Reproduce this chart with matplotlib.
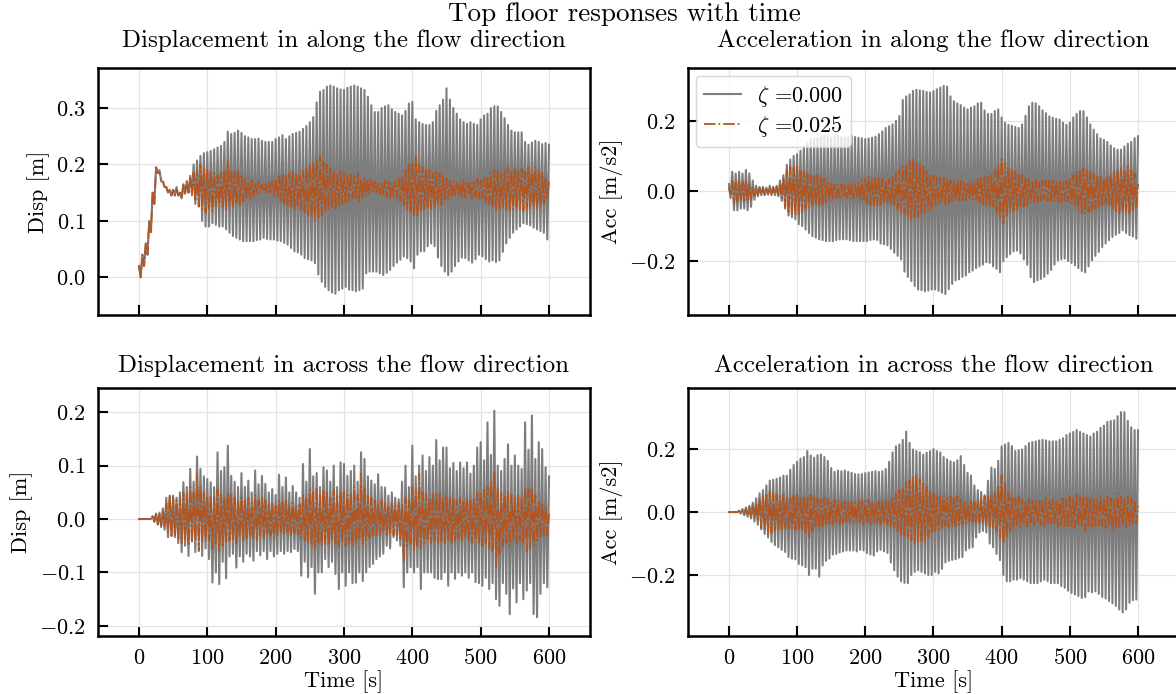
import numpy as np
import matplotlib
matplotlib.use("Agg")
import matplotlib.pyplot as plt

plt.rcParams["font.family"] = "cmr10"
plt.rcParams["mathtext.fontset"] = "cm"
plt.rcParams["axes.formatter.use_mathtext"] = True

# peak times (s); troughs sit half a cycle later
T = np.arange(0, 601, 5)

# --- displacement, along flow ---
tl_up = [0.02, 0.04, 0.06, 0.10, 0.15, 0.195, 0.19, 0.17, 0.16, 0.155,
         0.155, 0.16, 0.15, 0.165, 0.17, 0.18, 0.20, 0.207, 0.215, 0.22,
         0.222, 0.224, 0.227, 0.23, 0.233, 0.24, 0.258, 0.254, 0.256, 0.26,
         0.256, 0.25, 0.248, 0.245, 0.245, 0.246, 0.242, 0.24, 0.24, 0.24,
         0.245, 0.248, 0.252, 0.245, 0.25, 0.254, 0.256, 0.258, 0.263, 0.268,
         0.275, 0.284, 0.31, 0.329, 0.332, 0.338, 0.34, 0.338, 0.335, 0.333,
         0.332, 0.336, 0.338, 0.34, 0.338, 0.335, 0.332, 0.32, 0.305, 0.293,
         0.293, 0.30, 0.303, 0.305, 0.298, 0.293, 0.29, 0.287, 0.295, 0.308,
         0.311, 0.28, 0.275, 0.272, 0.27, 0.27, 0.275, 0.295, 0.305, 0.315,
         0.335, 0.315, 0.30, 0.29, 0.28, 0.275, 0.272, 0.275, 0.272, 0.27,
         0.28, 0.287, 0.29, 0.30, 0.303, 0.303, 0.293, 0.282, 0.27, 0.26,
         0.257, 0.257, 0.257, 0.24, 0.235, 0.239, 0.242, 0.24, 0.236, 0.238,
         0.235]
tl_lo = [0.00, 0.02, 0.04, 0.08, 0.13, 0.185, 0.17, 0.16, 0.15, 0.145,
         0.145, 0.145, 0.14, 0.15, 0.15, 0.15, 0.13, 0.126, 0.10, 0.09,
         0.09, 0.096, 0.093, 0.09, 0.09, 0.085, 0.079, 0.073, 0.07, 0.067,
         0.064, 0.064, 0.064, 0.064, 0.066, 0.067, 0.07, 0.068, 0.067, 0.067,
         0.065, 0.064, 0.061, 0.058, 0.052, 0.046, 0.044, 0.04, 0.034, 0.032,
         0.03, 0.025, 0.005, -0.008, -0.017, -0.023, -0.027, -0.029, -0.023, -0.02,
         -0.017, -0.022, -0.023, -0.025, -0.023, -0.02, 0.007, 0.01, 0.01, 0.01,
         0.007, 0.004, 0.008, 0.013, 0.02, 0.026, 0.031, 0.037, 0.034, 0.028,
         0.016, 0.04, 0.046, 0.046, 0.055, 0.06, 0.055, 0.035, 0.02, 0.01,
         0.004, 0.01, 0.02, 0.028, 0.035, 0.034, 0.03, 0.026, 0.032, 0.04,
         0.037, 0.032, 0.028, 0.03, 0.027, 0.03, 0.045, 0.06, 0.07, 0.079,
         0.085, 0.09, 0.096, 0.094, 0.092, 0.088, 0.085, 0.082, 0.079, 0.067,
         0.07]
tld_up = [0.02, 0.04, 0.06, 0.10, 0.15, 0.195, 0.185, 0.17, 0.16, 0.155,
          0.155, 0.155, 0.15, 0.165, 0.17, 0.175, 0.185, 0.19, 0.20, 0.195,
          0.19, 0.19, 0.185, 0.18, 0.185, 0.19, 0.205, 0.19, 0.185, 0.19,
          0.18, 0.175, 0.17, 0.172, 0.168, 0.17, 0.165, 0.165, 0.168, 0.17,
          0.175, 0.18, 0.185, 0.18, 0.185, 0.19, 0.185, 0.18, 0.19, 0.195,
          0.20, 0.205, 0.21, 0.215, 0.205, 0.20, 0.195, 0.19, 0.185, 0.19,
          0.185, 0.18, 0.185, 0.18, 0.185, 0.175, 0.178, 0.175, 0.172, 0.17,
          0.17, 0.168, 0.172, 0.17, 0.168, 0.17, 0.175, 0.18, 0.19, 0.20,
          0.205, 0.215, 0.20, 0.195, 0.19, 0.19, 0.185, 0.19, 0.185, 0.18,
          0.175, 0.172, 0.17, 0.168, 0.17, 0.172, 0.168, 0.17, 0.17, 0.175,
          0.172, 0.175, 0.18, 0.185, 0.19, 0.188, 0.185, 0.19, 0.195, 0.19,
          0.195, 0.19, 0.192, 0.188, 0.195, 0.19, 0.195, 0.19, 0.185, 0.175,
          0.17]
tld_lo = [0.00, 0.02, 0.04, 0.08, 0.13, 0.185, 0.175, 0.16, 0.15, 0.145,
          0.145, 0.145, 0.14, 0.148, 0.15, 0.145, 0.135, 0.125, 0.12, 0.115,
          0.12, 0.118, 0.125, 0.13, 0.125, 0.12, 0.128, 0.125, 0.13, 0.128,
          0.135, 0.138, 0.14, 0.145, 0.148, 0.15, 0.152, 0.15, 0.148, 0.145,
          0.14, 0.135, 0.13, 0.128, 0.125, 0.12, 0.125, 0.12, 0.115, 0.11,
          0.105, 0.10, 0.105, 0.11, 0.115, 0.12, 0.125, 0.12, 0.125, 0.13,
          0.13, 0.135, 0.14, 0.138, 0.135, 0.14, 0.145, 0.148, 0.15, 0.15,
          0.148, 0.145, 0.142, 0.14, 0.145, 0.14, 0.135, 0.128, 0.12, 0.115,
          0.11, 0.108, 0.115, 0.12, 0.125, 0.122, 0.125, 0.13, 0.128, 0.135,
          0.14, 0.142, 0.145, 0.143, 0.14, 0.142, 0.145, 0.14, 0.143, 0.14,
          0.14, 0.135, 0.13, 0.125, 0.12, 0.122, 0.125, 0.12, 0.118, 0.12,
          0.125, 0.12, 0.118, 0.122, 0.12, 0.125, 0.12, 0.128, 0.13, 0.14,
          0.145]

# --- acceleration, along flow ---
tr_up = [0.02, 0.055, 0.05, 0.055, 0.05, 0.06, 0.05, 0.03, 0.015, 0.012,
         0.012, 0.01, 0.015, 0.012, 0.015, 0.03, 0.045, 0.075, 0.09, 0.10,
         0.105, 0.115, 0.128, 0.135, 0.148, 0.15, 0.152, 0.155, 0.157, 0.155,
         0.152, 0.155, 0.157, 0.154, 0.152, 0.155, 0.157, 0.154, 0.152, 0.15,
         0.148, 0.15, 0.152, 0.155, 0.162, 0.17, 0.18, 0.185, 0.19, 0.2,
         0.214, 0.26, 0.27, 0.276, 0.286, 0.289, 0.287, 0.286, 0.283, 0.281,
         0.285, 0.29, 0.295, 0.30, 0.298, 0.27, 0.256, 0.25, 0.245, 0.238,
         0.233, 0.238, 0.242, 0.25, 0.252, 0.23, 0.22, 0.22, 0.228, 0.233,
         0.21, 0.195, 0.189, 0.186, 0.183, 0.18, 0.19, 0.215, 0.242, 0.252,
         0.25, 0.242, 0.23, 0.222, 0.213, 0.209, 0.206, 0.204, 0.195, 0.189,
         0.195, 0.21, 0.22, 0.228, 0.228, 0.21, 0.19, 0.175, 0.162, 0.15,
         0.146, 0.14, 0.13, 0.122, 0.118, 0.118, 0.127, 0.135, 0.14, 0.151,
         0.156]
tr_lo = [-0.02, -0.055, -0.055, -0.05, -0.05, -0.055, -0.045, -0.025, -0.015, -0.012,
         -0.012, -0.01, -0.012, -0.012, -0.015, -0.028, -0.05, -0.07, -0.075, -0.081,
         -0.095, -0.10, -0.11, -0.12, -0.129, -0.133, -0.138, -0.14, -0.143, -0.143,
         -0.143, -0.14, -0.138, -0.138, -0.138, -0.14, -0.143, -0.143, -0.143, -0.143,
         -0.143, -0.14, -0.138, -0.14, -0.15, -0.152, -0.155, -0.165, -0.176, -0.185,
         -0.195, -0.23, -0.245, -0.257, -0.271, -0.281, -0.283, -0.286, -0.284, -0.281,
         -0.281, -0.285, -0.29, -0.294, -0.28, -0.265, -0.255, -0.252, -0.245, -0.241,
         -0.232, -0.227, -0.22, -0.215, -0.21, -0.203, -0.205, -0.215, -0.222, -0.232,
         -0.2, -0.189, -0.18, -0.172, -0.17, -0.178, -0.195, -0.21, -0.246, -0.26,
         -0.255, -0.251, -0.245, -0.236, -0.225, -0.21, -0.198, -0.195, -0.193, -0.2,
         -0.205, -0.212, -0.22, -0.228, -0.232, -0.215, -0.198, -0.185, -0.174, -0.16,
         -0.15, -0.14, -0.131, -0.125, -0.12, -0.112, -0.12, -0.126, -0.13, -0.136,
         -0.14]
trd_up = [0.01, 0.03, 0.025, 0.03, 0.025, 0.03, 0.02, 0.01, 0.008, 0.01,
          0.008, 0.01, 0.008, 0.01, 0.012, 0.02, 0.04, 0.06, 0.07, 0.065,
          0.07, 0.06, 0.055, 0.05, 0.045, 0.04, 0.045, 0.04, 0.035, 0.03,
          0.025, 0.02, 0.018, 0.02, 0.018, 0.02, 0.022, 0.02, 0.025, 0.03,
          0.035, 0.04, 0.038, 0.042, 0.04, 0.035, 0.03, 0.035, 0.04, 0.05,
          0.06, 0.07, 0.075, 0.085, 0.09, 0.08, 0.075, 0.07, 0.06, 0.05,
          0.045, 0.04, 0.038, 0.04, 0.035, 0.032, 0.03, 0.032, 0.03, 0.025,
          0.025, 0.028, 0.03, 0.035, 0.04, 0.042, 0.04, 0.045, 0.06, 0.075,
          0.09, 0.08, 0.065, 0.06, 0.055, 0.05, 0.045, 0.04, 0.035, 0.03,
          0.03, 0.025, 0.03, 0.028, 0.03, 0.032, 0.03, 0.028, 0.025, 0.03,
          0.035, 0.045, 0.055, 0.06, 0.065, 0.06, 0.055, 0.05, 0.045, 0.04,
          0.035, 0.04, 0.05, 0.055, 0.06, 0.065, 0.06, 0.07, 0.06, 0.05,
          0.02]
trd_lo = [-0.01, -0.035, -0.03, -0.025, -0.03, -0.03, -0.025, -0.012, -0.01, -0.008,
          -0.01, -0.008, -0.01, -0.008, -0.012, -0.02, -0.045, -0.065, -0.07, -0.065,
          -0.07, -0.06, -0.05, -0.045, -0.04, -0.04, -0.042, -0.038, -0.03, -0.028,
          -0.022, -0.02, -0.02, -0.018, -0.02, -0.022, -0.02, -0.022, -0.028, -0.03,
          -0.035, -0.04, -0.042, -0.04, -0.038, -0.035, -0.032, -0.04, -0.045, -0.05,
          -0.06, -0.065, -0.072, -0.08, -0.078, -0.072, -0.065, -0.06, -0.055, -0.05,
          -0.045, -0.04, -0.035, -0.038, -0.035, -0.03, -0.03, -0.03, -0.028, -0.025,
          -0.025, -0.025, -0.028, -0.032, -0.038, -0.04, -0.042, -0.045, -0.06, -0.08,
          -0.093, -0.07, -0.06, -0.055, -0.05, -0.048, -0.045, -0.04, -0.035, -0.03,
          -0.03, -0.028, -0.025, -0.03, -0.028, -0.03, -0.032, -0.03, -0.028, -0.03,
          -0.035, -0.045, -0.055, -0.062, -0.064, -0.06, -0.055, -0.05, -0.045, -0.04,
          -0.035, -0.04, -0.05, -0.058, -0.065, -0.062, -0.06, -0.065, -0.055, -0.045,
          -0.02]

# --- displacement, across flow ---
bl_up = [0.0, 0.0, 0.0, 0.0, 0.005, 0.01, 0.012, 0.02, 0.04, 0.044,
         0.044, 0.04, 0.05, 0.069, 0.06, 0.094, 0.07, 0.117, 0.094, 0.08,
         0.075, 0.069, 0.06, 0.125, 0.09, 0.097, 0.1375, 0.081, 0.07, 0.06,
         0.086, 0.06, 0.072, 0.05, 0.091, 0.065, 0.081, 0.066, 0.05, 0.056,
         0.045, 0.083, 0.06, 0.078, 0.05, 0.062, 0.05, 0.04, 0.103, 0.07,
         0.131, 0.08, 0.086, 0.06, 0.097, 0.091, 0.07, 0.1, 0.06, 0.106,
         0.103, 0.081, 0.09, 0.1, 0.07, 0.125, 0.1125, 0.08, 0.072, 0.065,
         0.084, 0.06, 0.059, 0.044, 0.05, 0.04, 0.037, 0.07, 0.1, 0.06,
         0.1375, 0.08, 0.10, 0.119, 0.09, 0.116, 0.10, 0.148, 0.11, 0.134,
         0.134, 0.095, 0.105, 0.09, 0.106, 0.095, 0.106, 0.085, 0.1, 0.134,
         0.144, 0.11, 0.181, 0.12, 0.203, 0.1, 0.09, 0.1125, 0.14, 0.10,
         0.119, 0.10, 0.094, 0.181, 0.13, 0.194, 0.1125, 0.144, 0.131, 0.097,
         0.08]
bl_lo = [0.0, 0.0, 0.0, 0.0, -0.005, -0.01, -0.015, -0.02, -0.034, -0.03,
         -0.034, -0.045, -0.062, -0.05, -0.069, -0.04, -0.062, -0.05, -0.069, -0.055,
         -0.075, -0.119, -0.1, -0.122, -0.08, -0.111, -0.07, -0.065, -0.091, -0.07,
         -0.08, -0.065, -0.07, -0.078, -0.06, -0.068, -0.06, -0.075, -0.06, -0.07,
         -0.065, -0.06, -0.065, -0.06, -0.062, -0.056, -0.06, -0.106, -0.08, -0.109,
         -0.09, -0.14, -0.1, -0.1, -0.075, -0.09, -0.08, -0.103, -0.131, -0.1,
         -0.125, -0.1, -0.12, -0.119, -0.1, -0.116, -0.1, -0.09, -0.084, -0.075,
         -0.07, -0.065, -0.05, -0.055, -0.034, -0.04, -0.05, -0.128, -0.1, -0.09,
         -0.10, -0.09, -0.131, -0.1, -0.1, -0.1, -0.11, -0.1125, -0.1125, -0.1,
         -0.125, -0.1, -0.112, -0.1, -0.106, -0.1, -0.11, -0.1, -0.118, -0.12,
         -0.125, -0.11, -0.131, -0.12, -0.15, -0.1625, -0.12, -0.14, -0.178, -0.13,
         -0.156, -0.12, -0.15, -0.134, -0.12, -0.178, -0.184, -0.14, -0.12, -0.128,
         -0.1]
bld_up = [0.0, 0.0, 0.0, 0.0, 0.005, 0.01, 0.012, 0.015, 0.03, 0.045,
          0.04, 0.035, 0.04, 0.05, 0.045, 0.06, 0.05, 0.085, 0.06, 0.05,
          0.04, 0.045, 0.04, 0.055, 0.045, 0.04, 0.05, 0.045, 0.04, 0.035,
          0.04, 0.035, 0.04, 0.03, 0.045, 0.035, 0.04, 0.035, 0.03, 0.03,
          0.025, 0.035, 0.03, 0.035, 0.025, 0.03, 0.025, 0.03, 0.045, 0.04,
          0.055, 0.05, 0.06, 0.045, 0.055, 0.05, 0.04, 0.055, 0.045, 0.05,
          0.05, 0.045, 0.05, 0.06, 0.045, 0.085, 0.06, 0.045, 0.04, 0.035,
          0.03, 0.035, 0.03, 0.025, 0.03, 0.025, 0.03, 0.03, 0.04, 0.035,
          0.06, 0.05, 0.084, 0.05, 0.045, 0.04, 0.05, 0.045, 0.05, 0.04,
          0.045, 0.04, 0.04, 0.035, 0.04, 0.035, 0.04, 0.035, 0.04, 0.05,
          0.05, 0.055, 0.06, 0.07, 0.0875, 0.06, 0.05, 0.045, 0.05, 0.045,
          0.04, 0.045, 0.04, 0.06, 0.055, 0.06, 0.045, 0.035, 0.03, 0.025,
          0.01]
bld_lo = [0.0, 0.0, 0.0, 0.0, -0.005, -0.01, -0.012, -0.015, -0.025, -0.035,
          -0.03, -0.04, -0.045, -0.04, -0.05, -0.045, -0.04, -0.06, -0.045, -0.04,
          -0.04, -0.055, -0.045, -0.06, -0.05, -0.045, -0.04, -0.04, -0.045, -0.035,
          -0.04, -0.035, -0.03, -0.035, -0.04, -0.03, -0.035, -0.03, -0.03, -0.035,
          -0.03, -0.025, -0.03, -0.025, -0.03, -0.025, -0.03, -0.035, -0.04, -0.045,
          -0.05, -0.055, -0.045, -0.05, -0.045, -0.05, -0.04, -0.045, -0.05, -0.045,
          -0.05, -0.045, -0.05, -0.045, -0.04, -0.05, -0.04, -0.035, -0.03, -0.03,
          -0.03, -0.025, -0.03, -0.025, -0.03, -0.03, -0.04, -0.08, -0.05, -0.045,
          -0.06, -0.05, -0.055, -0.045, -0.04, -0.045, -0.04, -0.045, -0.04, -0.045,
          -0.04, -0.045, -0.04, -0.035, -0.04, -0.035, -0.04, -0.045, -0.04, -0.045,
          -0.05, -0.045, -0.055, -0.06, -0.09, -0.065, -0.05, -0.045, -0.05, -0.04,
          -0.045, -0.04, -0.045, -0.06, -0.055, -0.05, -0.04, -0.035, -0.03, -0.03,
          -0.01]

# --- acceleration, across flow ---
br_up = [0.0, 0.0, 0.0, 0.005, 0.01, 0.015, 0.02, 0.03, 0.044, 0.06,
         0.07, 0.085, 0.1, 0.103, 0.106, 0.11, 0.116, 0.116, 0.135, 0.15,
         0.16, 0.17, 0.175, 0.194, 0.18, 0.173, 0.181, 0.183, 0.175, 0.163,
         0.14, 0.128, 0.132, 0.13, 0.132, 0.128, 0.125, 0.121, 0.12, 0.121,
         0.124, 0.126, 0.128, 0.13, 0.128, 0.13, 0.137, 0.16, 0.19, 0.209,
         0.215, 0.23, 0.256, 0.22, 0.199, 0.194, 0.19, 0.183, 0.189, 0.194,
         0.2, 0.194, 0.19, 0.175, 0.168, 0.162, 0.158, 0.165, 0.178, 0.15,
         0.125, 0.116, 0.085, 0.07, 0.064, 0.054, 0.1, 0.142, 0.137, 0.163,
         0.209, 0.215, 0.22, 0.21, 0.194, 0.197, 0.199, 0.21, 0.22, 0.223,
         0.225, 0.228, 0.23, 0.228, 0.225, 0.225, 0.225, 0.23, 0.235, 0.245,
         0.25, 0.255, 0.261, 0.255, 0.25, 0.245, 0.24, 0.25, 0.256, 0.268,
         0.275, 0.287, 0.29, 0.292, 0.305, 0.318, 0.318, 0.29, 0.27, 0.261,
         0.26]
br_lo = [0.0, 0.0, 0.0, -0.005, -0.01, -0.015, -0.02, -0.03, -0.04, -0.055,
         -0.07, -0.081, -0.095, -0.105, -0.112, -0.12, -0.127, -0.143, -0.148, -0.15,
         -0.165, -0.169, -0.175, -0.2, -0.18, -0.18, -0.205, -0.17, -0.155, -0.148,
         -0.135, -0.133, -0.128, -0.125, -0.122, -0.122, -0.122, -0.125, -0.12, -0.122,
         -0.13, -0.135, -0.138, -0.125, -0.12, -0.125, -0.13, -0.16, -0.185, -0.205,
         -0.22, -0.225, -0.226, -0.2, -0.19, -0.185, -0.19, -0.195, -0.2, -0.2,
         -0.19, -0.195, -0.18, -0.16, -0.155, -0.152, -0.15, -0.145, -0.143, -0.122,
         -0.115, -0.112, -0.081, -0.065, -0.06, -0.065, -0.1, -0.112, -0.133, -0.153,
         -0.2, -0.22, -0.22, -0.215, -0.215, -0.21, -0.215, -0.22, -0.226, -0.226,
         -0.226, -0.22, -0.215, -0.22, -0.226, -0.226, -0.226, -0.235, -0.241, -0.25,
         -0.257, -0.262, -0.267, -0.273, -0.27, -0.252, -0.255, -0.252, -0.26, -0.27,
         -0.275, -0.283, -0.29, -0.298, -0.31, -0.319, -0.31, -0.288, -0.28, -0.278,
         -0.26]
brd_up = [0.0, 0.0, 0.0, 0.003, 0.006, 0.01, 0.015, 0.02, 0.03, 0.045,
          0.05, 0.06, 0.064, 0.06, 0.055, 0.05, 0.055, 0.05, 0.045, 0.05,
          0.055, 0.05, 0.045, 0.05, 0.055, 0.05, 0.045, 0.04, 0.045, 0.04,
          0.035, 0.04, 0.035, 0.03, 0.035, 0.03, 0.035, 0.03, 0.035, 0.04,
          0.035, 0.04, 0.035, 0.03, 0.035, 0.04, 0.035, 0.04, 0.05, 0.06,
          0.07, 0.08, 0.095, 0.1, 0.11, 0.116, 0.105, 0.09, 0.08, 0.07,
          0.06, 0.055, 0.05, 0.05, 0.045, 0.05, 0.045, 0.05, 0.04, 0.035,
          0.03, 0.035, 0.03, 0.035, 0.04, 0.05, 0.05, 0.055, 0.06, 0.08,
          0.116, 0.09, 0.06, 0.05, 0.045, 0.05, 0.04, 0.035, 0.04, 0.035,
          0.04, 0.035, 0.04, 0.045, 0.035, 0.04, 0.035, 0.04, 0.045, 0.04,
          0.05, 0.045, 0.06, 0.05, 0.045, 0.05, 0.045, 0.04, 0.045, 0.05,
          0.045, 0.05, 0.045, 0.04, 0.06, 0.05, 0.045, 0.05, 0.045, 0.04,
          0.02]
brd_lo = [0.0, 0.0, 0.0, -0.003, -0.006, -0.01, -0.015, -0.02, -0.03, -0.05,
          -0.06, -0.07, -0.065, -0.06, -0.055, -0.06, -0.05, -0.055, -0.05, -0.055,
          -0.06, -0.055, -0.07, -0.08, -0.06, -0.05, -0.055, -0.05, -0.045, -0.04,
          -0.04, -0.035, -0.04, -0.035, -0.03, -0.035, -0.03, -0.035, -0.03, -0.04,
          -0.035, -0.04, -0.035, -0.035, -0.04, -0.035, -0.04, -0.045, -0.05, -0.06,
          -0.07, -0.075, -0.08, -0.09, -0.1, -0.095, -0.09, -0.1, -0.08, -0.07,
          -0.06, -0.055, -0.05, -0.045, -0.05, -0.045, -0.05, -0.04, -0.04, -0.035,
          -0.035, -0.03, -0.035, -0.03, -0.04, -0.045, -0.045, -0.05, -0.06, -0.08,
          -0.1, -0.08, -0.06, -0.05, -0.045, -0.05, -0.04, -0.045, -0.04, -0.04,
          -0.035, -0.04, -0.045, -0.04, -0.035, -0.04, -0.045, -0.04, -0.045, -0.05,
          -0.045, -0.05, -0.045, -0.05, -0.06, -0.045, -0.05, -0.045, -0.04, -0.045,
          -0.05, -0.045, -0.06, -0.05, -0.045, -0.04, -0.05, -0.045, -0.04, -0.035,
          -0.02]

labels = [r"$\zeta$ =0.000", r"$\zeta$ =0.025"]
x_ticks = [0, 100, 200, 300, 400, 500, 600]

GRAY = "#7d7d7d"
ORANGE = "#b4541f"


def zigzag(upper, lower):
    # peak at each T, trough half a cycle later
    t = np.column_stack([T, T + 2.5]).ravel()
    y = np.column_stack([upper, lower]).ravel()
    return t[:-1], y[:-1]


fig = plt.figure(figsize=(11.76, 6.94), dpi=100)

panels = [
    # rect, title, ylabel, gray, damped, ylim, yticks
    ([0.0833, 0.546, 0.4184, 0.356], "Displacement in along the flow direction",
     "Disp [m]", (tl_up, tl_lo), (tld_up, tld_lo), (-0.067, 0.371), [0.0, 0.1, 0.2, 0.3]),
    ([0.585, 0.546, 0.4175, 0.356], "Acceleration in along the flow direction",
     "Acc [m/s2]", (tr_up, tr_lo), (trd_up, trd_lo), (-0.354, 0.351), [-0.2, 0.0, 0.2]),
    ([0.0833, 0.0836, 0.4184, 0.357], "Displacement in across the flow direction",
     "Disp [m]", (bl_up, bl_lo), (bld_up, bld_lo), (-0.219, 0.245), [-0.2, -0.1, 0.0, 0.1, 0.2]),
    ([0.585, 0.0836, 0.4175, 0.357], "Acceleration in across the flow direction",
     "Acc [m/s2]", (br_up, br_lo), (brd_up, brd_lo), (-0.394, 0.394), [-0.2, 0.0, 0.2]),
]

axes = []
for k, (rect, title, ylab, gray, damped, ylim, yt) in enumerate(panels):
    ax = fig.add_axes(rect)
    axes.append(ax)
    t0, y0 = zigzag(*gray)
    t1, y1 = zigzag(*damped)
    ax.plot(t0, y0, color=GRAY, lw=1.5, label=labels[0])
    ax.plot(t1, y1, color=ORANGE, lw=1.3, ls="-.", label=labels[1])
    ax.set_xlim(-60, 660)
    ax.set_ylim(*ylim)
    ax.set_xticks(x_ticks)
    ax.set_yticks(yt)
    ax.grid(True, color="#e3e3e3", lw=0.9)
    ax.set_axisbelow(True)
    ax.tick_params(direction="in", length=7, width=1.5, labelsize=16, pad=9)
    for sp in ax.spines.values():
        sp.set_linewidth(1.8)
    ax.set_ylabel(ylab, fontsize=16)
    if k >= 2:
        ax.set_title(title, fontsize=18, pad=12)
        ax.set_xlabel("Time [s]", fontsize=16, labelpad=1)
    else:
        ax.set_title(title, fontsize=18, pad=15)
        ax.tick_params(labelbottom=False)

axes[1].legend(loc="upper left", fontsize=16, framealpha=0.8, edgecolor="#cccccc",
               fancybox=True, handlelength=1.7, handletextpad=0.7,
               labelspacing=0.25, borderpad=0.35, borderaxespad=0.35)

fig.suptitle("Top floor responses with time", fontsize=19.5, x=0.531, y=0.997)

fig.savefig("out.png", dpi=100)
